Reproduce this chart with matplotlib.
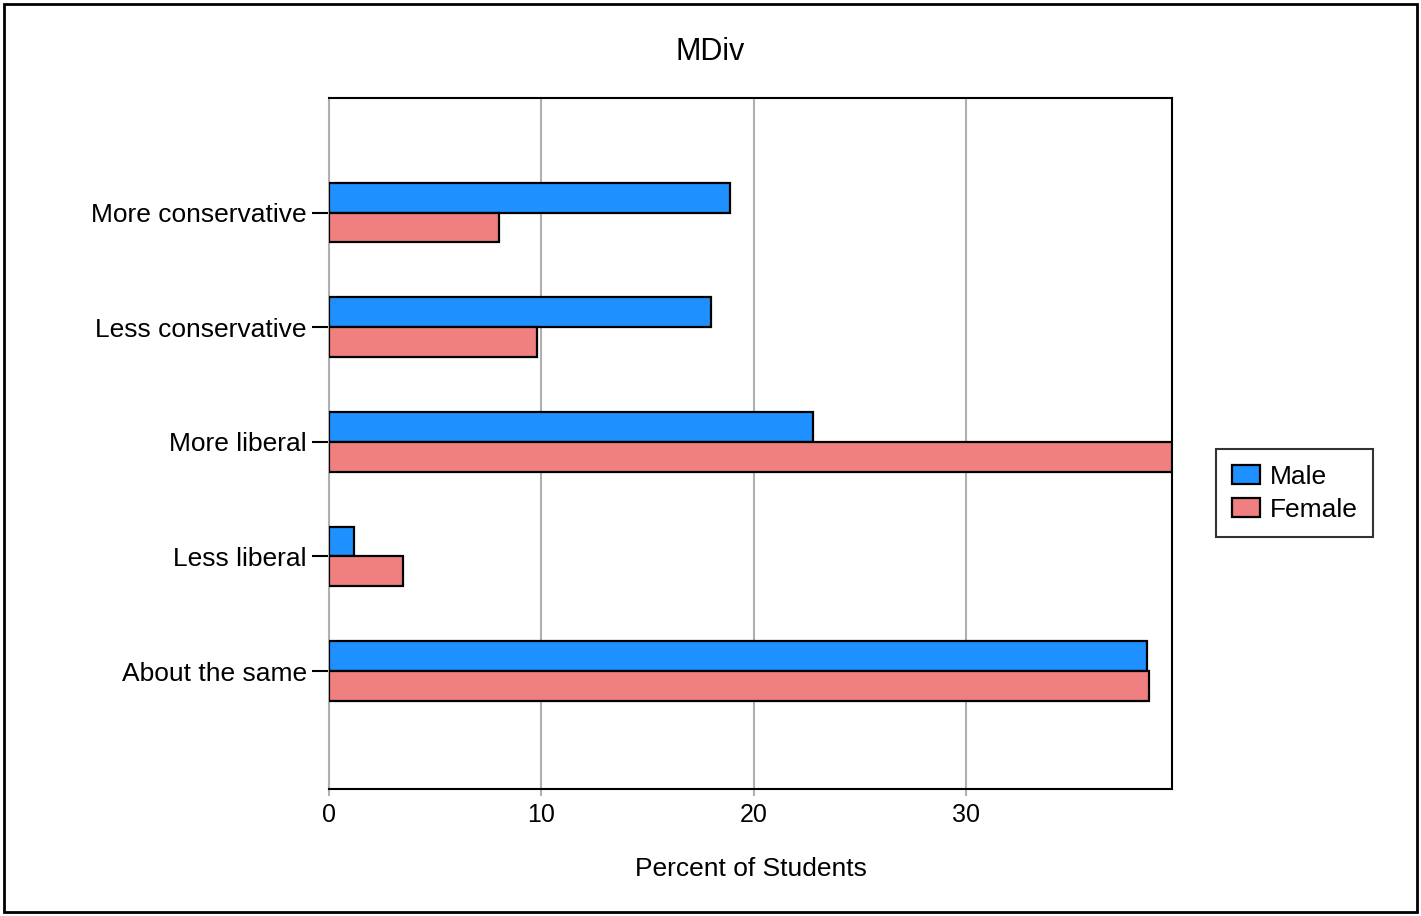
import matplotlib.pyplot as plt
import numpy as np
from matplotlib.patches import Rectangle

plt.rcParams['font.family'] = ['Liberation Sans', 'DejaVu Sans']

categories = ["More conservative", "Less conservative", "More liberal",
              "Less liberal", "About the same"]
male = [18.9, 18.0, 22.8, 1.2, 38.5]
female = [8.0, 9.8, 39.7, 3.5, 38.6]
x_ticks = [0, 10, 20, 30]

fig = plt.figure(figsize=(14.21, 9.16), dpi=100)
ax = fig.add_axes([0.2315, 0.1386, 0.5933, 0.7544])

y = np.arange(len(categories))
h = 0.26
ax.barh(y - h / 2, male, height=h, color="#1E90FF", edgecolor="black",
        linewidth=1.6, label="Male", zorder=3)
ax.barh(y + h / 2, female, height=h, color="#F08080", edgecolor="black",
        linewidth=1.6, label="Female", zorder=3)

ax.set_xlim(0, 39.7)
ax.set_ylim(5.03, -1.0)
ax.set_xticks(x_ticks)
ax.set_xticklabels([str(t) for t in x_ticks], fontsize=18)
ax.set_yticks(y)
ax.set_yticklabels(categories, fontsize=19)
ax.tick_params(axis="x", length=5, width=1.5, color="#b0b0b0", pad=5)
ax.tick_params(axis="y", length=12, width=1.5, color="black", pad=4)
ax.grid(axis="x", color="#b0b0b0", linewidth=1.5, zorder=0)
for side in ["top", "right", "bottom"]:
    ax.spines[side].set_linewidth(1.5)
ax.spines["left"].set_color("#b0b0b0")
ax.spines["left"].set_linewidth(1.5)

ax.set_xlabel("Percent of Students", fontsize=19, labelpad=22)
fig.text(0.5, 0.943, "MDiv", ha="center", va="center", fontsize=22)

leg = ax.legend(loc="center left", bbox_to_anchor=(1.052, 0.428), fontsize=19,
                frameon=True, fancybox=False, edgecolor="black",
                borderaxespad=0, handlelength=1.06, handleheight=0.76,
                handletextpad=0.38, borderpad=0.6, labelspacing=0.33)
leg.get_frame().set_linewidth(1.5)

fig.patches.append(Rectangle((0.003, 0.004), 0.994, 0.992, transform=fig.transFigure,
                             fill=False, edgecolor="black", linewidth=2))

fig.savefig("out.png", dpi=100)
